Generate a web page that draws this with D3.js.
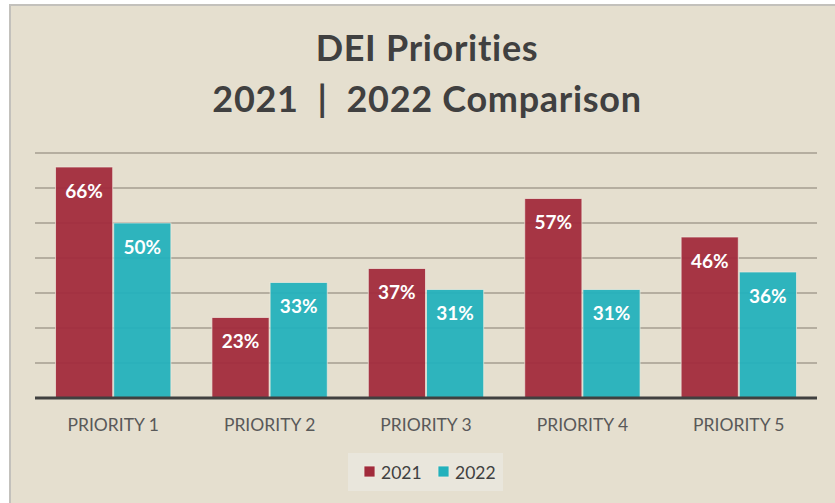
<!DOCTYPE html>
<html>
<head>
<meta charset="utf-8">
<script src="https://cdn.jsdelivr.net/npm/d3@7"></script>
<style>
  html, body { margin: 0; padding: 0; background: #ffffff; }
  svg { display: block; }
  text { font-variant-ligatures: none; font-feature-settings: "liga" 0; white-space: pre; }
</style>
</head>
<body>
<svg id="chart" width="835" height="503"></svg>
<script>
// Survey data: share of respondents naming each priority, per year (%)
const categories = ["PRIORITY 1", "PRIORITY 2", "PRIORITY 3", "PRIORITY 4", "PRIORITY 5"];
const years = ["2021", "2022"];
const values2021 = [66, 23, 37, 57, 46];
const values2022 = [50, 33, 31, 31, 36];
const gridTicks = [10, 20, 30, 40, 50, 60, 70];
const titleLines = ["DEI Priorities", "2021  |  2022 Comparison"];

const colors = { "2021": "#a12b3b", "2022": "#22b1bc" };
const seriesByYear = { "2021": values2021, "2022": values2022 };

const svg = d3.select("#chart");
const font = "Lato, 'Open Sans', sans-serif";

// chart frame
svg.append("rect")
  .attr("x", 10).attr("y", 5)
  .attr("width", 840).attr("height", 510)
  .attr("fill", "#e5dfcf")
  .attr("stroke", "#c3c1bc")
  .attr("stroke-width", 2);

// title
svg.append("g").selectAll("text")
  .data(titleLines)
  .join("text")
  .attr("x", 427)
  .attr("y", (d, i) => 61 + i * 51)
  .attr("text-anchor", "middle")
  .attr("font-family", font)
  .attr("font-weight", 700)
  .attr("font-size", 36)
  .attr("letter-spacing", 0.7)
  .attr("fill", "#404040")
  .text(d => d);

const x = d3.scaleBand()
  .domain(categories)
  .range([35, 817])
  .paddingInner(0.256)
  .paddingOuter(0.128);

const xSub = d3.scaleBand()
  .domain(years)
  .range([0, x.bandwidth()])
  .padding(0);

const y = d3.scaleLinear()
  .domain([0, 70])
  .range([398, 153]);

// horizontal gridlines
svg.append("g").selectAll("line")
  .data(gridTicks)
  .join("line")
  .attr("x1", 35).attr("x2", 817)
  .attr("y1", d => y(d)).attr("y2", d => y(d))
  .attr("stroke", "#b5aea0")
  .attr("stroke-width", 2);

// bars
const rows = categories.map((c, i) => ({
  category: c,
  items: years.map(yr => ({ year: yr, value: seriesByYear[yr][i] }))
}));

const groups = svg.append("g").selectAll("g")
  .data(rows)
  .join("g")
  .attr("transform", d => `translate(${x(d.category)},0)`);

groups.selectAll("rect")
  .data(d => d.items)
  .join("rect")
  .attr("x", d => xSub(d.year) + 0.5)
  .attr("y", d => y(d.value))
  .attr("width", xSub.bandwidth() - 1)
  .attr("height", d => y(0) - y(d.value))
  .attr("fill", d => colors[d.year])
  .attr("fill-opacity", 0.94)
  .attr("stroke", "#f0ebe0")
  .attr("stroke-opacity", 0.7)
  .attr("stroke-width", 1);

// value labels inside the top of each bar
groups.selectAll("text")
  .data(d => d.items)
  .join("text")
  .attr("x", d => xSub(d.year) + xSub.bandwidth() / 2)
  .attr("y", d => y(d.value) + 30.5)
  .attr("text-anchor", "middle")
  .attr("font-family", font)
  .attr("font-weight", 700)
  .attr("font-size", 19)
  .attr("fill", "#ffffff")
  .text(d => d.value + "%");

// category axis
const xAxis = svg.append("g")
  .attr("transform", `translate(0,${y(0)})`)
  .call(d3.axisBottom(x).tickSize(0).tickPadding(21));
xAxis.select(".domain")
  .attr("d", "M35,0H817")
  .attr("stroke", "#404040")
  .attr("stroke-width", 3);
xAxis.selectAll("text")
  .attr("font-family", font)
  .attr("font-size", 17.5)
  .attr("fill", "#595959");

// legend
const legend = svg.append("g");
legend.append("rect")
  .attr("x", 348).attr("y", 453)
  .attr("width", 155).attr("height", 38)
  .attr("fill", "#e9e6dc");
const legendX = d3.scaleOrdinal().domain(years).range([364, 438]);
const items = legend.selectAll("g")
  .data(years)
  .join("g")
  .attr("transform", d => `translate(${legendX(d)},466)`);
items.append("rect")
  .attr("width", 11).attr("height", 11)
  .attr("fill", d => colors[d])
  .attr("stroke", "#f0ebe0")
  .attr("stroke-width", 0.8);
items.append("text")
  .attr("x", 17).attr("y", 12.5)
  .attr("font-family", font)
  .attr("font-size", 17.5)
  .attr("fill", "#404040")
  .text(d => d);
</script>
</body>
</html>
